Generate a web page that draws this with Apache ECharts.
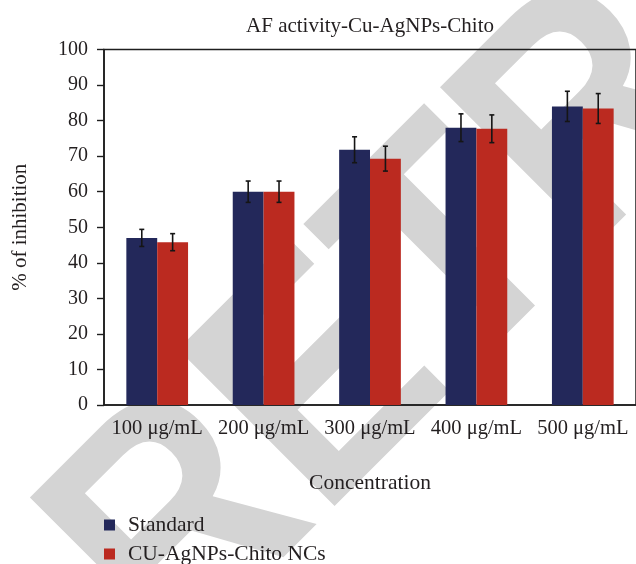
<!DOCTYPE html>
<html>
<head>
<meta charset="utf-8">
<script src="https://cdn.jsdelivr.net/npm/echarts@6/dist/echarts.min.js"></script>
<style>html,body{margin:0;padding:0;background:#fff}#c{width:636px;height:564px}</style>
</head>
<body>
<div id="c"></div>
<script>
const titleText = 'AF activity-Cu-AgNPs-Chito';
const categories = ['100 μg/mL', '200 μg/mL', '300 μg/mL', '400 μg/mL', '500 μg/mL'];
const seriesNames = ['Standard', 'CU-AgNPs-Chito NCs'];
const standardValues = [47, 60, 71.8, 78, 84];
const standardErrors = [2.4, 3, 3.65, 3.9, 4.25];
const chitoValues = [45.8, 60, 69.3, 77.7, 83.4];
const chitoErrors = [2.4, 3, 3.5, 3.9, 4.2];
const yMin = 0, yMax = 100, yInterval = 10;
const watermarkText = 'RETRACTED';

const colors = ['#23285a', '#bb2a20'];
const textColor = '#231f20';
const fontFamily = '"Liberation Serif", "DejaVu Serif", serif';
const barCategoryGapFrac = 0.42;

const chart = echarts.init(document.getElementById('c'), null, {renderer: 'canvas'});

function errorSeries(values, errors, seriesIdx) {
  return {
    type: 'custom',
    name: seriesNames[seriesIdx],
    z: 5,
    silent: true,
    data: values.map((v, i) => [i, v, errors[i]]),
    renderItem: function (params, api) {
      const i = api.value(0), v = api.value(1), e = api.value(2);
      const band = api.size([1, 0])[0];
      const barW = band * (1 - barCategoryGapFrac) / 2;
      const off = (seriesIdx === 0 ? -1 : 1) * barW / 2;
      const top = api.coord([i, v + e]);
      const bot = api.coord([i, v - e]);
      const x = top[0] + off;
      const cap = 2.5;
      const st = {stroke: '#151515', lineWidth: 1.6};
      return {
        type: 'group',
        children: [
          {type: 'line', shape: {x1: x, y1: top[1], x2: x, y2: bot[1]}, style: st},
          {type: 'line', shape: {x1: x - cap, y1: top[1], x2: x + cap, y2: top[1]}, style: st},
          {type: 'line', shape: {x1: x - cap, y1: bot[1], x2: x + cap, y2: bot[1]}, style: st}
        ]
      };
    }
  };
}

chart.setOption({
  animation: false,
  textStyle: {fontFamily: fontFamily, color: textColor},
  graphic: [{
    type: 'text', x: 110, y: 605, rotation: Math.PI / 4, scaleX: 1, scaleY: 1.11,
    z: -100, zlevel: 0, silent: true,
    style: {text: watermarkText, textAlign: 'left', textVerticalAlign: 'middle',
      font: 'bold 290px "Liberation Sans", Arial, sans-serif', fill: '#d4d4d4'}
  }, {
    type: 'text', x: 370, y: 26,
    style: {text: titleText, textAlign: 'center', textVerticalAlign: 'middle',
      font: '21px ' + fontFamily, fill: textColor}
  }],
  legend: {
    orient: 'vertical', left: 104, top: 514, height: 80, padding: 0,
    itemWidth: 11, itemHeight: 11, itemGap: 7,
    icon: 'rect',
    data: seriesNames,
    textStyle: {fontSize: 21.5, lineHeight: 22, fontFamily: fontFamily, color: textColor, padding: [0, 0, 0, 8]}
  },
  grid: {left: 104, top: 49.5, width: 536, height: 355.5, show: true,
    borderColor: '#1e1e1e', borderWidth: 1.5, backgroundColor: 'transparent'},
  xAxis: {
    type: 'category', data: categories,
    name: 'Concentration', nameLocation: 'middle', nameGap: 67,
    nameTextStyle: {fontSize: 21.5, fontFamily: fontFamily, color: textColor},
    axisLine: {lineStyle: {color: '#1e1e1e', width: 1.6}},
    axisTick: {alignWithLabel: true, length: 7, lineStyle: {color: '#1e1e1e', width: 1.4}},
    axisLabel: {fontSize: 20.5, fontFamily: fontFamily, color: textColor, margin: 13, interval: 0}
  },
  yAxis: {
    type: 'value', min: yMin, max: yMax, interval: yInterval,
    name: '% of inhibition', nameLocation: 'middle', nameGap: 73, nameRotate: 90,
    nameTextStyle: {fontSize: 21, fontFamily: fontFamily, color: textColor},
    axisLine: {show: true, lineStyle: {color: '#1e1e1e', width: 1.6}},
    axisTick: {show: true, length: 7, lineStyle: {color: '#1e1e1e', width: 1.4}},
    splitLine: {show: false},
    axisLabel: {fontSize: 20, fontFamily: fontFamily, color: textColor, margin: 16}
  },
  series: [
    {type: 'bar', name: seriesNames[0], data: standardValues, itemStyle: {color: colors[0]},
      barGap: '0%', barCategoryGap: (barCategoryGapFrac * 100) + '%'},
    {type: 'bar', name: seriesNames[1], data: chitoValues, itemStyle: {color: colors[1]},
      barGap: '0%', barCategoryGap: (barCategoryGapFrac * 100) + '%'},
    errorSeries(standardValues, standardErrors, 0),
    errorSeries(chitoValues, chitoErrors, 1)
  ]
});
</script>
</body>
</html>
